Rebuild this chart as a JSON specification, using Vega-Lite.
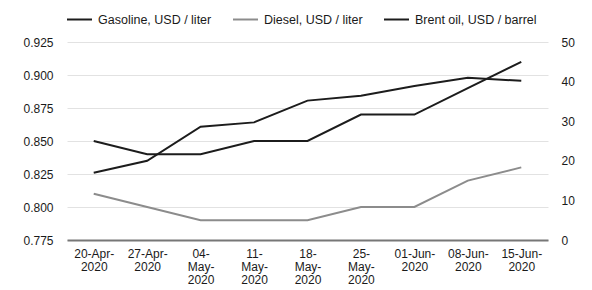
{
  "$schema": "https://vega.github.io/schema/vega-lite/v6.json",
  "autosize": "none",
  "padding": {"left": 67, "top": 42, "right": 44, "bottom": 50},
  "width": 481,
  "height": 198,
  "background": "white",
  "config": {
    "view": {"stroke": null},
    "font": "Liberation Sans",
    "axis": {"labelFont": "Liberation Sans", "labelFontSize": 12, "labelColor": "#1a1a1a", "gridColor": "#e2e2e2", "gridWidth": 1, "ticks": false, "domain": false, "title": null},
    "legend": {"labelFont": "Liberation Sans", "labelFontSize": 12.5, "labelColor": "#1a1a1a"}
  },
  "data": {"values": [
    {"date": "20-Apr-2020", "series": "Gasoline, USD / liter", "value": 0.85},
    {"date": "27-Apr-2020", "series": "Gasoline, USD / liter", "value": 0.84},
    {"date": "04-May-2020", "series": "Gasoline, USD / liter", "value": 0.84},
    {"date": "11-May-2020", "series": "Gasoline, USD / liter", "value": 0.85},
    {"date": "18-May-2020", "series": "Gasoline, USD / liter", "value": 0.85},
    {"date": "25-May-2020", "series": "Gasoline, USD / liter", "value": 0.87},
    {"date": "01-Jun-2020", "series": "Gasoline, USD / liter", "value": 0.87},
    {"date": "08-Jun-2020", "series": "Gasoline, USD / liter", "value": 0.89},
    {"date": "15-Jun-2020", "series": "Gasoline, USD / liter", "value": 0.91},
    {"date": "20-Apr-2020", "series": "Diesel, USD / liter", "value": 0.81},
    {"date": "27-Apr-2020", "series": "Diesel, USD / liter", "value": 0.80},
    {"date": "04-May-2020", "series": "Diesel, USD / liter", "value": 0.79},
    {"date": "11-May-2020", "series": "Diesel, USD / liter", "value": 0.79},
    {"date": "18-May-2020", "series": "Diesel, USD / liter", "value": 0.79},
    {"date": "25-May-2020", "series": "Diesel, USD / liter", "value": 0.80},
    {"date": "01-Jun-2020", "series": "Diesel, USD / liter", "value": 0.80},
    {"date": "08-Jun-2020", "series": "Diesel, USD / liter", "value": 0.82},
    {"date": "15-Jun-2020", "series": "Diesel, USD / liter", "value": 0.83},
    {"date": "20-Apr-2020", "series": "Brent oil, USD / barrel", "value": 17.0},
    {"date": "27-Apr-2020", "series": "Brent oil, USD / barrel", "value": 20.0},
    {"date": "04-May-2020", "series": "Brent oil, USD / barrel", "value": 28.6},
    {"date": "11-May-2020", "series": "Brent oil, USD / barrel", "value": 29.7},
    {"date": "18-May-2020", "series": "Brent oil, USD / barrel", "value": 35.2},
    {"date": "25-May-2020", "series": "Brent oil, USD / barrel", "value": 36.4},
    {"date": "01-Jun-2020", "series": "Brent oil, USD / barrel", "value": 38.9},
    {"date": "08-Jun-2020", "series": "Brent oil, USD / barrel", "value": 41.0},
    {"date": "15-Jun-2020", "series": "Brent oil, USD / barrel", "value": 40.2}
  ]},
  "encoding": {
    "x": {
      "field": "date", "type": "ordinal", "sort": null,
      "scale": {"type": "point", "padding": 0.5},
      "axis": {
        "labelAngle": 0, "grid": false, "domain": true, "domainColor": "#777", "domainWidth": 2,
        "labelPadding": 8, "labelLineHeight": 13, "labelBaseline": "top",
        "labelExpr": "indexof(datum.value,'May')>=0 ? [slice(datum.value,0,3), slice(datum.value,3,7), slice(datum.value,7)] : [slice(datum.value,0,7), slice(datum.value,7)]"
      }
    },
    "color": {
      "field": "series", "type": "nominal",
      "scale": {"domain": ["Gasoline, USD / liter", "Diesel, USD / liter", "Brent oil, USD / barrel"], "range": ["#1c1c1c", "#8c8c8c", "#1c1c1c"]},
      "legend": {"orient": "none", "legendX": -1, "legendY": -36, "direction": "horizontal", "columnPadding": 17, "symbolType": "stroke", "symbolSize": 625, "symbolStrokeWidth": 2, "labelOffset": 5, "title": null, "padding": 0}
    }
  },
  "layer": [
    {
      "transform": [{"filter": "datum.series != 'Brent oil, USD / barrel'"}],
      "mark": {"type": "line", "strokeWidth": 2},
      "encoding": {
        "y": {
          "field": "value", "type": "quantitative",
          "scale": {"domain": [0.775, 0.925], "zero": false, "nice": false},
          "axis": {"orient": "left", "values": [0.775, 0.8, 0.825, 0.85, 0.875, 0.9, 0.925], "format": ".3f", "labelPadding": 14}
        }
      }
    },
    {
      "transform": [{"filter": "datum.series == 'Brent oil, USD / barrel'"}],
      "mark": {"type": "line", "strokeWidth": 2},
      "encoding": {
        "y": {
          "field": "value", "type": "quantitative",
          "scale": {"domain": [0, 50], "nice": false},
          "axis": {"orient": "right", "values": [0, 10, 20, 30, 40, 50], "labelPadding": 13}
        }
      }
    }
  ],
  "resolve": {"scale": {"y": "independent"}}
}
